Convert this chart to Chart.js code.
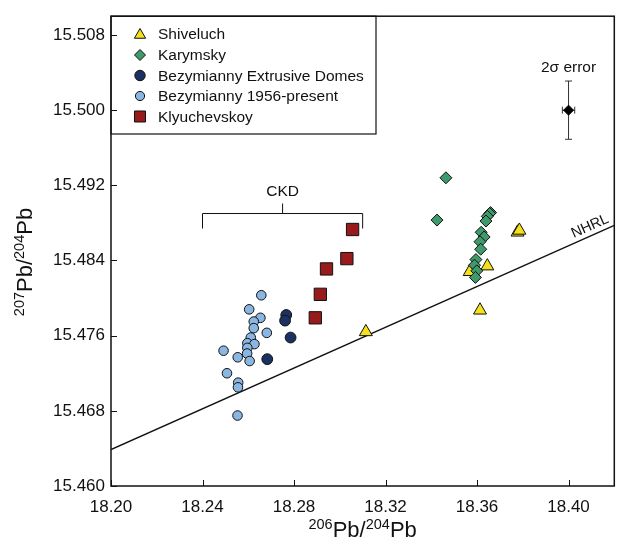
<!DOCTYPE html>
<html>
<head>
<meta charset="utf-8">
<script src="https://cdn.jsdelivr.net/npm/chart.js@4.4.1/dist/chart.umd.min.js"></script>
<style>
  html, body { margin: 0; padding: 0; background: #fff; }
  canvas { display: block; }
</style>
</head>
<body>
<canvas id="c" width="624" height="544"></canvas>
<script>
// Axis ticks
const xTicks = [18.20, 18.24, 18.28, 18.32, 18.36, 18.40];
const yTicks = [15.460, 15.468, 15.476, 15.484, 15.492, 15.500, 15.508];

// 206Pb/204Pb, 207Pb/204Pb pairs for each volcano
const shiveluch = [
  [18.3114, 15.4764], [18.3777, 15.4870], [18.3785, 15.4872],
  [18.3645, 15.4834], [18.3568, 15.4828], [18.3613, 15.4787]
];
const karymsky = [
  [18.3464, 15.4928], [18.3425, 15.4883], [18.3659, 15.4891], [18.3655, 15.4890],
  [18.3645, 15.4887], [18.3639, 15.4882], [18.3618, 15.4870], [18.3631, 15.4865],
  [18.3613, 15.4860], [18.3616, 15.4852], [18.3595, 15.4841], [18.3589, 15.4835],
  [18.3599, 15.4829], [18.3593, 15.4822]
];
const bezDomes = [
  [18.2766, 15.4782], [18.2761, 15.4776], [18.2785, 15.4758], [18.2683, 15.4735]
];
const bezModern = [
  [18.2657, 15.4803], [18.2604, 15.4788], [18.2653, 15.4779], [18.2624, 15.4775],
  [18.2624, 15.4768], [18.2681, 15.4763], [18.2611, 15.4758], [18.2596, 15.4752],
  [18.2627, 15.4751], [18.2596, 15.4747], [18.2595, 15.4741], [18.2492, 15.4744],
  [18.2554, 15.4737], [18.2606, 15.4733], [18.2507, 15.4720], [18.2556, 15.4710],
  [18.2555, 15.4705], [18.2553, 15.4675]
];
const klyuchevskoy = [
  [18.3056, 15.4873], [18.3031, 15.4842], [18.2942, 15.4831],
  [18.2915, 15.4804], [18.2893, 15.4779]
];

// Northern Hemisphere Reference Line: 207/204 = slope * 206/204 + intercept
const nhrlSlope = 0.1084;
const nhrlIntercept = 13.491;
const nhrlX = [18.20, 18.42];

// Representative 2-sigma analytical error
const errPoint = [18.40, 15.500];
const errHalfX = 0.0027;
const errHalfY = 0.0031;

// CKD bracket span
const ckdSpan = [18.24, 18.31];
const ckdLevel = 15.489;

const toPts = arr => arr.map(p => ({ x: p[0], y: p[1] }));
const FONT = '"Liberation Sans", Arial, Helvetica, sans-serif';

const series = [
  { label: 'Shiveluch', data: shiveluch, style: 'triangle', r: 7.5, color: '#f5e01a', order: 4 },
  { label: 'Karymsky', data: karymsky, style: 'rectRot', r: 6, color: '#3e9a6a', order: 3 },
  { label: 'Bezymianny Extrusive Domes', data: bezDomes, style: 'circle', r: 5.4, color: '#1c3162', order: 2 },
  { label: 'Bezymianny 1956-present', data: bezModern, style: 'circle', r: 4.8, color: '#8cb6e2', order: 1 },
  { label: 'Klyuchevskoy', data: klyuchevskoy, style: 'rect', r: 8.7, color: '#971b1b', order: 0 }
];

const datasets = series.map(s => ({
  type: 'scatter',
  label: s.label,
  data: toPts(s.data),
  pointStyle: s.style,
  pointRadius: s.r,
  pointBackgroundColor: s.color,
  pointBorderColor: '#111',
  pointBorderWidth: 1,
  order: s.order
}));

datasets.push({
  type: 'line',
  label: 'NHRL',
  data: nhrlX.map(x => ({ x: x, y: nhrlSlope * x + nhrlIntercept })),
  borderColor: '#111',
  borderWidth: 1.3,
  pointRadius: 0,
  fill: false,
  order: 6
});

datasets.push({
  type: 'scatter',
  label: '2σ error',
  data: [{ x: errPoint[0], y: errPoint[1] }],
  pointStyle: 'rectRot',
  pointRadius: 5,
  pointBackgroundColor: '#000',
  pointBorderColor: '#000',
  pointBorderWidth: 1,
  order: -1
});

function drawMarker(ctx, style, r, x, y, fill) {
  ctx.save();
  ctx.fillStyle = fill;
  ctx.strokeStyle = '#111';
  ctx.lineWidth = 1;
  Chart.helpers.drawPoint(ctx, { pointStyle: style, radius: r, rotation: 0, borderWidth: 1 }, x, y);
  ctx.restore();
}

// Writes "NNNPb/NNNPb" with superscript mass numbers, centred on (0,0)
function drawIsoRatio(ctx, top, bottom) {
  const big = '22px ' + FONT, small = '14.5px ' + FONT;
  const parts = [[top, small, -8], ['Pb', big, 0], ['/', big, 0], [bottom, small, -8], ['Pb', big, 0]];
  let total = 0;
  parts.forEach(p => { ctx.font = p[1]; total += ctx.measureText(p[0]).width; });
  let x = -total / 2;
  ctx.textAlign = 'left';
  ctx.textBaseline = 'alphabetic';
  ctx.fillStyle = '#111';
  parts.forEach(p => {
    ctx.font = p[1];
    ctx.fillText(p[0], x, 8 + p[2]);
    x += ctx.measureText(p[0]).width;
  });
}

const decorations = {
  id: 'decorations',
  beforeDatasetsDraw(chart) {
    const { ctx, scales: { x: sx, y: sy } } = chart;
    ctx.save();
    ctx.lineWidth = 1;

    // error bars
    const ex = sx.getPixelForValue(errPoint[0]);
    const ey = sy.getPixelForValue(errPoint[1]);
    const y1 = sy.getPixelForValue(errPoint[1] + errHalfY);
    const y2 = sy.getPixelForValue(errPoint[1] - errHalfY);
    const x1 = sx.getPixelForValue(errPoint[0] - errHalfX);
    const x2 = sx.getPixelForValue(errPoint[0] + errHalfX);
    ctx.strokeStyle = '#333';
    ctx.beginPath();
    ctx.moveTo(ex, y1); ctx.lineTo(ex, y2);
    ctx.moveTo(ex - 3.5, y1); ctx.lineTo(ex + 3.5, y1);
    ctx.moveTo(ex - 3.5, y2); ctx.lineTo(ex + 3.5, y2);
    ctx.moveTo(x1, ey); ctx.lineTo(x2, ey);
    ctx.moveTo(x1, ey - 3.5); ctx.lineTo(x1, ey + 3.5);
    ctx.moveTo(x2, ey - 3.5); ctx.lineTo(x2, ey + 3.5);
    ctx.stroke();

    ctx.fillStyle = '#111';
    ctx.font = '15.5px ' + FONT;
    ctx.textAlign = 'center';
    ctx.textBaseline = 'middle';
    ctx.fillText('2σ error', ex, y1 - 13);

    // CKD bracket
    const cl = sx.getPixelForValue(ckdSpan[0]);
    const cr = sx.getPixelForValue(ckdSpan[1]);
    const cm = sx.getPixelForValue((ckdSpan[0] + ckdSpan[1]) / 2);
    const cy = sy.getPixelForValue(ckdLevel);
    ctx.strokeStyle = '#111';
    ctx.beginPath();
    ctx.moveTo(cl, cy + 15); ctx.lineTo(cl, cy); ctx.lineTo(cr, cy); ctx.lineTo(cr, cy + 15);
    ctx.moveTo(cm, cy); ctx.lineTo(cm, cy - 10);
    ctx.stroke();
    ctx.fillText('CKD', cm, cy - 22);

    // NHRL label along the line
    const lx = 18.411;
    const px = sx.getPixelForValue(lx);
    const py = sy.getPixelForValue(nhrlSlope * lx + nhrlIntercept);
    const ang = Math.atan2(
      sy.getPixelForValue(nhrlSlope * nhrlX[1] + nhrlIntercept) - sy.getPixelForValue(nhrlSlope * nhrlX[0] + nhrlIntercept),
      sx.getPixelForValue(nhrlX[1]) - sx.getPixelForValue(nhrlX[0]));
    ctx.translate(px, py);
    ctx.rotate(ang);
    ctx.font = '14.5px ' + FONT;
    ctx.textBaseline = 'alphabetic';
    ctx.fillText('NHRL', 0, -5);
    ctx.restore();
  },
  afterDatasetsDraw(chart) {
    const { ctx, chartArea: a, scales: { x: sx, y: sy } } = chart;
    ctx.save();

    // legend box
    const boxR = 376, boxB = 134;
    ctx.fillStyle = '#fff';
    ctx.fillRect(a.left, a.top, boxR - a.left, boxB - a.top);
    ctx.strokeStyle = '#111';
    ctx.lineWidth = 1.2;
    ctx.strokeRect(a.left, a.top, boxR - a.left, boxB - a.top);
    const rowY = [33.5, 55, 75.5, 96, 116.5];
    const legendR = [6.5, 5.5, 5.2, 4.6, 7.8];
    series.forEach((s, i) => {
      drawMarker(ctx, s.style, legendR[i], 140, rowY[i] + (s.style === 'triangle' ? 1.5 : 0), s.color);
      ctx.fillStyle = '#111';
      ctx.font = '15.5px ' + FONT;
      ctx.textAlign = 'left';
      ctx.textBaseline = 'middle';
      ctx.fillText(s.label, 158, rowY[i] + 1);
    });

    // plot frame
    ctx.strokeStyle = '#111';
    ctx.lineWidth = 1.5;
    ctx.strokeRect(a.left, a.top, a.right - a.left, a.bottom - a.top);

    // inward tick marks
    ctx.lineWidth = 1;
    ctx.beginPath();
    xTicks.forEach(v => {
      const p = Math.round(sx.getPixelForValue(v)) + 0.5;
      ctx.moveTo(p, a.bottom); ctx.lineTo(p, a.bottom - 6);
    });
    yTicks.forEach(v => {
      const p = Math.round(sy.getPixelForValue(v)) + 0.5;
      ctx.moveTo(a.left, p); ctx.lineTo(a.left + 6, p);
    });
    ctx.stroke();

    // axis titles
    ctx.save();
    ctx.translate((a.left + a.right) / 2, 529);
    drawIsoRatio(ctx, '206', '204');
    ctx.restore();
    ctx.save();
    ctx.translate(24, 262);
    ctx.rotate(-Math.PI / 2);
    drawIsoRatio(ctx, '207', '204');
    ctx.restore();

    ctx.restore();
  }
};

new Chart(document.getElementById('c'), {
  type: 'scatter',
  data: { datasets: datasets },
  options: {
    responsive: false,
    animation: false,
    events: [],
    layout: { padding: { top: 12, right: 1, left: 0, bottom: 0 } },
    plugins: { legend: { display: false }, tooltip: { enabled: false } },
    scales: {
      x: {
        type: 'linear',
        min: 18.20,
        max: 18.42,
        afterBuildTicks: s => { s.ticks = xTicks.map(v => ({ value: v })); },
        afterFit: s => { s.height = 58; },
        grid: { display: false, drawTicks: false },
        border: { display: false },
        ticks: {
          padding: 11,
          color: '#111',
          font: { family: FONT, size: 17 },
          maxRotation: 0,
          autoSkip: false,
          callback: v => Number(v).toFixed(2)
        }
      },
      y: {
        type: 'linear',
        min: 15.460,
        max: 15.510,
        afterBuildTicks: s => { s.ticks = yTicks.map(v => ({ value: v })); },
        afterFit: s => { s.width = 111; },
        grid: { display: false, drawTicks: false },
        border: { display: false },
        ticks: {
          padding: 6,
          color: '#111',
          font: { family: FONT, size: 17 },
          autoSkip: false,
          callback: v => Number(v).toFixed(3)
        }
      }
    }
  },
  plugins: [decorations]
});
</script>
</body>
</html>
